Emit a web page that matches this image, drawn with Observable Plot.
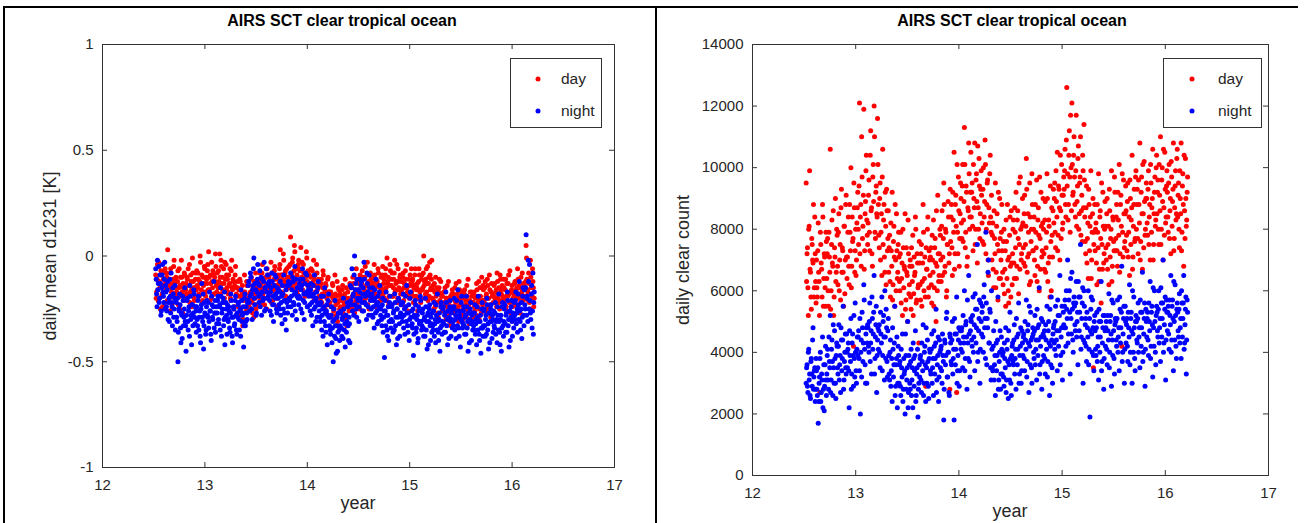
<!DOCTYPE html>
<html><head><meta charset="utf-8">
<script src="https://cdn.jsdelivr.net/npm/d3@7"></script>
<script src="https://cdn.jsdelivr.net/npm/@observablehq/plot@0.6"></script>
<style>
body{margin:0;background:#fff;}
#root{position:relative;width:1304px;height:523px;overflow:hidden;font-family:"Liberation Sans",Arial,sans-serif;background:#fff;}
#root svg{position:absolute;top:0;}
.abs{position:absolute;}
.title{font-weight:bold;font-size:16px;color:#000;transform:translateX(-50%);white-space:nowrap;line-height:18px;}
.ylab{font-size:18px;color:#262626;white-space:nowrap;transform:translate(-50%,-50%) rotate(-90deg);line-height:18px;}
.xlab{font-size:18px;color:#262626;transform:translateX(-50%);line-height:18px;}
.legend{border:1px solid #333;background:#fff;box-sizing:border-box;}
.lt{position:absolute;font-size:15.5px;color:#262626;line-height:16px;transform:translateY(-50%);}
.ld{position:absolute;width:5px;height:5px;border-radius:50%;transform:translate(-50%,-50%);}
.line{position:absolute;background:#000;}
</style></head>
<body>
<div id="root"></div>
<script>
// x ticks (year - 2000) and y ticks
const xTicks = [12, 13, 14, 15, 16, 17];
const leftYTicks = [-1, -0.5, 0, 0.5, 1];
const rightYTicks = [0, 2000, 4000, 6000, 8000, 10000, 12000, 14000];
// daily samples from mid-2012; each list holds every other day (A = even days, B = odd days)
const t0 = 12.52, perYear = 120;

// left panel: daily mean d1231, hundredths of K
const leftDayA = [
-9,-17,-4,-21,-12,-15,-7,-19,-24,-11,-14,-6,
-16,-10,3,-13,-20,-8,-15,-23,-11,-5,-18,-12,
-12,-19,-7,-15,-25,-10,-2,-17,-13,-21,-9,-16,
-18,-11,-6,-14,-22,-9,-16,-1,-12,-20,-15,-8,
-7,-15,-11,-19,0,-13,-9,-21,-14,-5,-17,-10,
-13,-4,2,-16,-9,-20,-12,-7,-18,-10,1,-14,
-8,-15,-12,1,-18,-5,-10,-22,-13,-3,-16,-9,
-11,-18,-14,-6,-21,-2,-16,-12,-24,-9,-15,-19,
-15,-24,-19,-12,-28,-17,-33,-21,-9,-18,-26,-14,
-20,-13,-26,-17,-10,-22,-15,-29,-18,-8,-23,-16,
-12,-19,-8,-15,-22,-4,-17,-11,-20,-14,-25,-9,
-15,-9,-18,-3,-12,-21,-14,-7,-19,-11,-16,-24,
-11,-6,3,-14,-9,-18,-2,-12,-7,-16,-10,-20,
-5,-12,9,-9,-3,-15,-7,2,-11,-6,-18,-4,
-13,-7,4,-10,-16,-4,-12,-19,-8,-1,-14,-9,
-9,-15,-6,-13,-19,-2,-11,-17,-14,-8,-22,-12,
-14,-20,-11,-18,-7,-24,-16,-13,-27,-19,-10,-17,
-22,-17,-28,-13,-20,-25,-9,-23,-19,-31,-15,-21,
-18,-26,-21,-14,-29,-23,-11,-20,-33,-17,-24,-22,
-21,-15,-24,-10,-19,-27,-16,-6,-22,-18,-13,-25,
-12,-18,-7,-15,-22,-10,-20,-14,-3,-17,-25,-13,
-16,-10,-21,-13,-4,-18,-11,-24,-14,-8,-19,-15,
-10,-17,-5,-13,-20,-9,-15,-1,-12,-23,-14,-7,
-14,-8,-19,-11,-2,-16,-12,-22,-6,-15,-10,-18,
-12,-18,-8,-15,-24,-11,-4,-17,-14,-20,-9,-13,
-17,-11,-22,-14,-6,-19,-15,-26,-12,-9,-20,-16,
-9,-15,0,-12,-18,-6,-13,-21,-10,-3,-16,-11,
-20,-14,-25,-17,-10,-22,-18,-29,-15,-21,-12,-19,
-19,-26,-22,-15,-30,-20,-24,-12,-27,-21,-33,-18,
-24,-18,-27,-21,-13,-25,-20,-31,-16,-23,-28,-19,
-20,-25,-16,-23,-29,-19,-11,-24,-21,-27,-17,-22,
-22,-17,-26,-19,-13,-24,-20,-30,-15,-21,-10,-23,
-16,-22,-12,-19,-26,-14,-20,-9,-23,-17,-28,-18,
-19,-13,-22,-16,-8,-20,-15,-25,-11,-18,-14,-21,
-15,-21,-11,-19,-26,-13,-18,-7,-22,-16,-24,-17,
-18,-12,-23,-15,-6,-20,-14,-27,-10,-17,-21,-13,
-14,-20,5,-11,-17,-8,-22,-2,-15,-19,-12,-24
];
const leftDayB = [
-20,-11,-16,-3,-13,-25,-9,-18,-14,-7,-22,-12,
-8,-21,-14,-11,-26,-6,-17,-13,-19,-2,-15,-10,
-17,-12,-23,-6,-14,-19,-10,-27,-15,-8,-20,-13,
-10,-19,-14,-4,-17,-12,-24,-8,-15,-21,-11,-16,
-14,-8,-18,-12,-3,-16,-22,-10,-13,-6,-19,-11,
-7,-16,-10,-21,-13,-3,-15,-9,-18,-12,-5,-17,
-14,-7,-19,-10,-2,-13,-16,-6,-20,-11,-4,-15,
-17,-9,-13,-20,-7,-15,-11,-25,-14,-5,-18,-12,
-22,-16,-11,-25,-19,-14,-30,-20,-17,-24,-12,-21,
-14,-24,-18,-11,-21,-27,-16,-12,-20,-25,-15,-19,
-17,-11,-21,-13,-8,-18,-15,-23,-10,-16,-6,-14,
-10,-18,-13,-22,-8,-16,-11,-5,-17,-14,-20,-9,
-13,-4,-9,-17,-11,1,-14,-8,-19,-6,-12,-15,
-10,-4,-14,-8,-1,-11,5,-13,-6,-9,-16,-2,
-6,-15,-11,-3,-13,-8,-18,-10,2,-12,-7,-16,
-15,-10,-18,-7,-12,-21,-9,-14,-4,-16,-11,-19,
-19,-13,-22,-15,-9,-18,-25,-14,-20,-11,-17,-23,
-17,-24,-19,-14,-26,-21,-18,-28,-12,-22,-16,-25,
-24,-19,-16,-27,-22,-18,-30,-15,-23,-20,-26,-13,
-15,-22,-19,-13,-26,-17,-21,-11,-24,-16,-20,-9,
-18,-13,-21,-10,-16,-5,-19,-14,-23,-12,-17,-8,
-11,-17,-13,-20,-9,-15,-23,-12,-6,-18,-14,-21,
-15,-9,-18,-11,-16,-6,-21,-13,-10,-19,-4,-14,
-11,-19,-15,-8,-17,-13,-4,-20,-12,-16,-9,-23,
-16,-10,-21,-13,-7,-18,-15,-26,-11,-19,-14,-6,
-12,-19,-15,-9,-23,-16,-13,-20,-6,-17,-22,-11,
-16,-8,-14,-20,-11,-17,-5,-13,-19,-9,-15,-2,
-16,-21,-13,-24,-19,-15,-27,-17,-11,-22,-18,-25,
-25,-17,-23,-28,-20,-14,-26,-22,-31,-19,-24,-16,
-20,-26,-15,-22,-29,-18,-24,-12,-21,-27,-17,-30,
-25,-18,-28,-21,-14,-26,-23,-32,-17,-22,-19,-29,
-18,-24,-20,-28,-16,-22,-12,-25,-19,-27,-21,-14,
-21,-15,-25,-18,-11,-20,-24,-16,-29,-13,-19,-22,
-14,-20,-17,-24,-12,-18,-22,-9,-16,-21,-19,-11,
-21,-16,-24,-13,-19,-9,-22,-17,-27,-14,-20,-18,
-13,-20,-16,-24,-11,-19,-15,-22,-18,-8,-21,-14,
-19,-12,-1,-16,-21,-13,-25,-10,-18,-6,-15,-20
];
const leftNightA = [
-6,-18,-2,-13,-22,-9,-28,-15,-4,-19,-11,-25,
-17,-26,-12,-22,-31,-19,-8,-24,-15,-29,-20,-35,
-22,-31,-50,-25,-18,-34,-27,-39,-21,-29,-15,-33,
-28,-20,-35,-24,-14,-30,-42,-23,-27,-18,-32,-26,
-24,-33,-19,-29,-38,-25,-13,-31,-44,-22,-28,-35,
-21,-29,-34,-17,-26,-40,-23,-30,-12,-27,-36,-24,
-27,-19,-32,-23,-15,-38,-25,-20,-30,-42,-22,-28,
-23,-31,-26,-36,-18,-29,-41,-24,-33,-21,-28,-37,
-29,-22,-35,-25,-16,-31,-27,-43,-20,-33,-24,-30,
-21,-12,-26,-8,-18,-30,-14,-1,-23,-16,-27,-11,
-13,-22,-7,-18,-28,-11,-20,-3,-15,-25,-17,-9,
-19,-12,-26,-15,-8,-23,-31,-14,-20,-10,-27,-17,
-16,-25,-12,-22,-32,-18,-9,-27,-21,-35,-14,-24,
-14,-21,-8,-19,-28,-12,-23,-5,-17,-30,-15,-20,
-19,-11,-25,-14,-6,-21,-30,-13,-18,-9,-24,-16,
-17,-26,-13,-22,-33,-18,-9,-24,-20,-29,-15,-23,
-23,-31,-19,-28,-38,-24,-15,-33,-26,-42,-21,-29,
-29,-37,-24,-34,-50,-30,-21,-39,-33,-45,-27,-35,
-33,-26,-38,-29,-20,-35,-43,-28,-31,-24,-40,-32,
-14,-23,-6,-19,-28,0,-16,-25,-11,-21,-31,-17,
-20,-12,-26,-15,-3,-22,-18,-30,-13,-24,-9,-19,
-19,-28,-15,-24,-34,-20,-11,-26,-22,-31,-17,-25,
-24,-33,-20,-29,-48,-26,-17,-35,-28,-40,-22,-31,
-30,-23,-36,-26,-18,-33,-42,-25,-29,-21,-38,-27,
-22,-31,-18,-28,-37,-24,-14,-33,-27,-40,-20,-29,
-26,-34,-47,-28,-21,-36,-30,-41,-24,-32,-19,-31,
-33,-25,-38,-29,-20,-35,-44,-27,-31,-23,-40,-32,
-27,-35,-22,-32,-41,-28,-18,-36,-30,-45,-24,-33,
-31,-24,-36,-27,-17,-33,-42,-26,-29,-21,-38,-30,
-25,-33,-20,-30,-39,-26,-16,-34,-28,-43,-22,-31,
-32,-24,-37,-28,-19,-34,-45,-27,-30,-22,-40,-31,
-27,-35,-23,-32,-42,-29,-19,-37,-31,-46,-25,-34,
-33,-25,-38,-28,-20,-35,-44,-27,-31,-23,-39,-30,
-26,-34,-22,-31,-41,-28,-18,-36,-30,-45,-24,-33,
-31,-23,-36,-27,-17,-33,-43,-26,-29,-21,-38,-30,
-22,-30,-17,-27,-36,-23,-12,-31,-25,-39,-19,-28,
-16,-25,10,-20,-31,-12,-4,-27,-18,-34,-8,-22
];
const leftNightB = [
-11,-24,-16,-5,-20,-13,-26,-9,-17,-22,-3,-14,
-24,-16,-30,-20,-11,-27,-22,-33,-18,-25,-14,-21,
-29,-20,-36,-26,-23,-41,-28,-19,-33,-25,-31,-45,
-21,-31,-26,-38,-19,-28,-23,-33,-16,-29,-24,-36,
-30,-21,-35,-26,-41,-23,-29,-18,-33,-27,-37,-24,
-28,-22,-31,-26,-37,-19,-29,-24,-34,-21,-27,-32,
-21,-30,-24,-35,-19,-27,-22,-33,-17,-29,-25,-37,
-30,-24,-34,-27,-21,-38,-29,-25,-32,-19,-35,-27,
-23,-30,-26,-38,-21,-28,-24,-33,-18,-31,-27,-22,
-14,-22,-19,-10,-25,-16,-6,-20,-13,-28,-17,-4,
-19,-14,-24,-10,-17,-21,-12,-26,-15,-6,-20,-13,
-14,-21,-17,-28,-12,-19,-23,-9,-18,-25,-15,-20,
-23,-17,-28,-19,-14,-25,-21,-30,-16,-22,-27,-12,
-20,-13,-24,-16,-10,-22,-18,-26,-11,-19,-15,-23,
-13,-20,-16,-27,-11,-18,-22,-8,-17,-24,-14,-19,
-23,-16,-28,-19,-14,-25,-21,-31,-17,-22,-12,-26,
-29,-22,-35,-25,-19,-31,-27,-36,-23,-28,-18,-33,
-35,-28,-41,-31,-25,-38,-33,-46,-29,-36,-27,-40,
-27,-34,-30,-39,-25,-32,-28,-36,-22,-33,-29,-41,
-21,-15,-26,-18,-9,-23,-13,-29,-20,-16,-24,-11,
-14,-22,-18,-26,-11,-19,-23,-8,-17,-28,-15,-21,
-25,-18,-29,-21,-16,-27,-23,-32,-19,-24,-14,-28,
-30,-23,-36,-26,-21,-33,-28,-38,-24,-31,-19,-34,
-24,-31,-27,-35,-22,-29,-25,-39,-20,-32,-28,-23,
-29,-22,-34,-25,-19,-31,-27,-36,-23,-30,-17,-33,
-32,-25,-37,-29,-23,-34,-28,-39,-26,-31,-21,-35,
-27,-34,-30,-38,-24,-31,-28,-42,-25,-33,-29,-36,
-33,-26,-38,-30,-23,-35,-31,-40,-27,-34,-22,-37,
-25,-32,-28,-36,-22,-30,-26,-39,-24,-31,-27,-34,
-31,-24,-35,-28,-21,-33,-29,-38,-26,-30,-19,-34,
-26,-33,-29,-37,-24,-31,-27,-41,-25,-32,-28,-35,
-33,-27,-37,-30,-24,-35,-31,-40,-28,-34,-22,-38,
-26,-33,-30,-37,-23,-32,-27,-41,-25,-31,-28,-36,
-33,-27,-37,-30,-24,-35,-31,-42,-28,-34,-22,-38,
-25,-32,-28,-36,-21,-30,-26,-40,-24,-31,-27,-34,
-28,-21,-32,-25,-18,-30,-26,-35,-22,-29,-15,-33,
-23,-15,-28,-19,-2,-25,-21,-30,-14,-26,-37,-17
];

// right panel: daily clear count, hundreds
const rightDayA = [
95,72,61,80,99,66,54,75,69,58,84,63,
70,58,82,63,27,75,67,88,55,72,61,79,
64,77,55,71,106,60,83,68,52,74,90,66,
78,62,85,70,57,93,74,66,81,59,88,71,
71,84,62,79,100,68,76,42,87,73,65,82,
92,75,121,84,68,97,81,119,73,89,104,78,
82,96,73,112,87,68,101,120,79,92,85,116,
88,74,95,79,65,106,83,71,92,62,86,77,
66,78,58,73,92,62,81,55,70,85,64,75,
71,60,79,64,52,74,68,85,57,66,50,72,
62,70,54,68,78,59,65,84,56,72,61,43,
69,57,75,63,88,60,71,29,67,80,58,73,
65,74,56,70,83,61,77,50,68,91,63,72,
78,63,86,71,95,66,80,58,75,89,69,28,
76,88,65,83,105,72,91,27,79,97,68,85,
90,77,101,83,113,74,94,68,87,108,80,92,
84,95,73,90,108,80,98,69,87,103,77,93,
91,76,100,84,109,72,88,96,65,82,104,79,
70,82,61,77,95,66,85,57,73,90,64,79,
73,62,80,67,55,76,88,60,71,84,58,69,
72,83,64,79,92,68,86,59,75,97,70,81,
82,69,91,75,103,66,85,72,95,63,80,88,
73,84,65,79,96,68,87,60,77,92,71,82,
80,67,89,74,98,63,83,71,94,60,78,86,
82,95,74,89,105,78,93,70,86,101,80,91,
93,106,84,126,98,88,112,79,100,121,91,104,
97,84,117,89,103,80,95,110,86,76,99,114,
84,72,94,77,64,88,81,99,70,85,35,79,
73,82,62,79,98,67,86,56,75,92,69,80,
81,70,90,75,62,86,77,99,68,83,73,92,
77,88,68,83,101,72,91,42,79,96,74,85,
86,73,95,79,65,90,83,104,71,88,76,97,
80,93,72,88,108,76,97,67,85,102,78,90,
90,78,99,84,70,95,87,106,75,92,81,100,
85,96,75,91,110,80,100,70,87,105,82,94,
92,79,101,86,72,97,89,108,77,94,83,103,
84,95,74,90,108,79,98,68,86,103,81,92
];
const rightDayB = [
63,74,52,81,67,58,77,70,88,61,72,56,
61,73,66,52,79,69,58,84,64,71,55,76,
72,60,79,66,54,75,69,86,58,71,63,80,
68,79,60,75,87,66,73,55,81,70,91,64,
79,68,88,73,61,84,77,95,66,80,70,87,
80,94,72,88,110,77,91,67,85,99,83,75,
91,79,104,86,72,97,89,110,77,94,84,101,
78,90,70,85,97,75,88,66,81,93,73,86,
74,63,82,68,57,76,71,88,60,73,66,79,
63,72,56,69,80,61,67,54,74,65,83,59,
68,58,74,63,52,71,66,80,57,69,62,76,
62,72,55,69,79,64,58,74,67,84,61,70,
71,62,78,66,55,74,69,86,60,72,65,80,
70,81,65,77,88,68,79,60,75,84,72,93,
84,74,92,79,67,88,81,101,72,86,77,95,
82,94,76,89,101,79,92,71,86,98,84,105,
92,81,101,87,75,96,89,107,80,94,85,99,
82,93,75,89,101,80,95,70,87,98,84,91,
78,67,86,72,61,81,75,92,64,77,70,88,
66,76,59,73,83,64,70,56,78,68,86,62,
80,69,87,74,64,83,77,95,67,80,72,90,
74,85,68,81,93,71,79,62,84,76,98,73,
80,70,88,74,63,83,78,97,67,81,73,90,
72,83,66,79,90,69,81,58,76,87,71,93,
90,79,99,84,73,94,87,104,77,91,82,97,
99,88,109,94,83,104,97,117,86,101,92,110,
88,99,81,94,107,85,97,78,91,104,87,96,
76,87,69,82,93,73,84,64,79,90,75,88,
80,69,88,74,63,84,77,95,67,81,72,89,
74,85,67,81,93,71,80,63,84,76,97,73,
84,73,92,78,66,88,81,98,71,85,76,94,
78,89,71,84,96,75,87,67,81,93,77,99,
88,77,96,82,70,92,85,101,74,89,80,95,
82,93,75,88,101,79,90,70,85,97,83,104,
92,80,101,86,75,96,89,106,78,93,84,99,
84,95,77,90,102,81,93,73,87,99,85,106,
91,80,99,85,73,94,88,104,77,90,83,97
];
const rightNightA = [
30,36,27,41,33,25,38,29,48,32,35,28,
34,26,17,30,38,24,33,45,28,21,36,31,
33,41,28,37,52,31,44,26,35,47,30,39,
42,33,49,36,27,44,38,55,31,40,35,46,
35,43,22,39,51,33,46,29,38,56,34,41,
39,47,34,20,44,53,37,62,41,30,48,43,
48,40,56,43,33,51,46,65,38,49,27,44,
41,49,35,46,58,39,52,31,45,54,37,47,
39,31,44,34,24,41,36,55,29,38,22,42,
30,37,26,35,46,28,33,20,39,31,50,27,
36,28,41,31,22,38,34,47,26,35,19,30,
32,39,27,37,49,30,42,24,35,44,29,38,
40,33,46,35,26,42,38,54,31,39,24,44,
35,42,30,39,18,44,36,51,32,40,27,46,
43,36,50,38,18,46,41,58,34,44,29,47,
41,48,35,45,60,38,50,28,43,65,37,47,
50,42,58,45,34,54,48,75,40,51,30,56,
46,55,40,62,51,79,36,48,70,43,53,31,
41,34,47,36,26,43,39,58,31,40,28,45,
33,40,29,38,48,31,44,25,36,53,30,39,
43,36,49,38,28,45,41,56,33,42,30,47,
39,46,34,44,57,37,49,27,42,53,35,45,
46,38,52,41,31,48,44,61,36,45,28,50,
39,47,33,44,55,37,50,26,42,58,35,46,
49,41,55,44,34,52,47,65,39,48,31,53,
48,57,42,54,70,46,60,33,51,66,44,56,
55,47,63,50,36,58,53,75,45,56,30,60,
43,51,37,48,60,41,19,54,46,57,39,50,
47,39,53,42,31,50,45,63,37,48,28,52,
42,50,36,47,59,40,52,29,44,56,38,49,
50,42,57,45,34,54,48,68,40,51,30,55,
43,51,37,48,62,40,53,30,46,58,38,50,
50,43,56,45,35,53,48,66,40,51,29,54,
45,53,39,50,63,42,55,32,48,60,40,52,
53,45,60,48,37,56,51,70,43,54,31,57,
47,55,41,52,65,44,57,34,50,62,42,54,
53,45,59,48,38,56,51,65,43,54,33,57
];
const rightNightB = [
35,29,40,31,26,37,33,44,28,34,24,38,
28,35,24,32,40,27,31,22,36,29,42,26,
39,31,45,35,27,41,37,49,30,38,25,43,
35,42,31,39,48,34,44,28,37,46,33,40,
41,34,47,37,28,43,39,52,32,40,30,45,
45,38,51,40,32,48,43,57,36,46,30,49,
42,50,37,47,58,41,53,33,45,55,39,48,
47,40,53,43,34,50,45,60,38,48,32,51,
33,40,29,38,48,32,43,26,36,45,30,39,
36,29,41,32,24,38,34,46,28,35,22,39,
30,37,26,35,43,29,39,24,33,41,28,36,
38,31,43,34,26,40,36,48,30,37,25,41,
34,41,30,38,47,33,43,27,36,45,32,40,
41,34,46,37,28,43,39,53,32,40,26,45,
37,44,33,41,51,36,46,30,39,48,34,43,
47,40,52,43,34,49,45,57,38,46,32,51,
44,52,40,49,59,43,54,37,47,57,41,50,
53,45,58,48,38,56,51,66,43,54,35,60,
35,42,31,39,50,34,44,28,37,47,33,41,
39,32,43,35,27,41,37,47,31,38,26,42,
37,44,33,41,51,36,46,30,39,48,34,43,
45,38,50,41,32,47,43,55,36,44,30,48,
40,47,36,44,54,39,49,33,42,51,37,46,
45,38,49,41,32,47,43,54,36,44,30,48,
43,50,39,47,57,42,52,36,45,55,40,49,
55,48,60,51,43,57,53,64,46,54,40,58,
49,56,45,53,63,47,58,41,51,61,44,55,
49,42,53,45,36,51,47,58,40,48,34,52,
41,48,37,45,54,40,50,34,43,52,38,47,
48,41,52,44,35,50,46,57,39,47,33,51,
44,51,40,48,58,43,53,37,46,55,41,50,
49,42,53,45,36,51,47,60,40,48,34,52,
44,51,40,48,57,42,53,37,46,56,41,50,
51,44,56,47,38,53,49,61,42,50,36,55,
47,54,43,51,61,45,56,40,49,58,44,53,
53,46,57,49,40,55,51,63,44,52,38,56,
47,54,43,51,60,45,56,41,49,58,44,53
];

const title = "AIRS SCT clear tropical ocean";
const xLabel = "year";
const leftYLabel = "daily mean d1231 [K]";
const rightYLabel = "daily clear count";
const seriesNames = ["day", "night"];
const seriesColors = ["#ff0000", "#0000ff"];

function series(a, b, unit) {
  return a.map((v, i) => ({t: t0 + i / perYear, v: v * unit}))
    .concat(b.map((v, i) => ({t: t0 + (i + 0.5) / perYear, v: v * unit})));
}

function panel(o) {
  const plotW = o.width - o.ml - o.mr, plotH = o.height - o.mt - o.mb;
  const ink = "#333";
  const svg = Plot.plot({
    width: o.width, height: o.height,
    marginLeft: o.ml, marginRight: o.mr, marginTop: o.mt, marginBottom: o.mb,
    style: {fontFamily: '"Liberation Sans", Arial, sans-serif', fontSize: "15px", color: "#262626", background: "transparent", overflow: "visible"},
    x: {domain: [12, 17], ticks: xTicks, tickSize: 0, tickPadding: 12, tickFormat: d => String(d), label: null},
    y: {domain: o.yDomain, ticks: o.yTicks, tickSize: 0, tickPadding: 9, tickFormat: d => String(d), label: null},
    marks: [
      Plot.dot(o.day, {x: "t", y: "v", r: 2.5, fill: seriesColors[0]}),
      Plot.dot(o.night, {x: "t", y: "v", r: 2.5, fill: seriesColors[1]}),
      Plot.tickX(xTicks, {x: d => d, insetTop: plotH - 5, stroke: ink}),
      Plot.tickX(xTicks, {x: d => d, insetBottom: plotH - 5, stroke: ink}),
      Plot.tickY(o.yTicks, {y: d => d, insetRight: plotW - 5, stroke: ink}),
      Plot.tickY(o.yTicks, {y: d => d, insetLeft: plotW - 5, stroke: ink}),
      Plot.frame({stroke: ink})
    ]
  });
  svg.style.left = o.left + "px";
  return svg;
}

const root = document.getElementById("root");
root.appendChild(panel({
  left: 0, width: 655, height: 523, ml: 102, mr: 41, mt: 44, mb: 56,
  yDomain: [-1, 1], yTicks: leftYTicks,
  day: series(leftDayA, leftDayB, 0.01), night: series(leftNightA, leftNightB, 0.01)
}));
root.appendChild(panel({
  left: 657, width: 647, height: 523, ml: 95, mr: 36, mt: 44, mb: 48,
  yDomain: [0, 14000], yTicks: rightYTicks,
  day: series(rightDayA, rightDayB, 100), night: series(rightNightA, rightNightB, 100)
}));

function add(cls, css, text) {
  const d = document.createElement("div");
  d.className = "abs " + cls;
  Object.assign(d.style, css);
  if (text != null) d.textContent = text;
  root.appendChild(d);
  return d;
}
add("title", {left: "342px", top: "12px"}, title);
add("title", {left: "1012px", top: "12px"}, title);
add("ylab", {left: "50px", top: "256px"}, leftYLabel);
add("ylab", {left: "683px", top: "260px"}, rightYLabel);
add("xlab", {left: "358px", top: "494px"}, xLabel);
add("xlab", {left: "1010px", top: "502px"}, xLabel);

function legend(x, y, w, h, dotX, textX) {
  const box = add("legend", {left: x + "px", top: y + "px", width: w + "px", height: h + "px"});
  [[20, 0], [52, 1]].forEach(([ry, k]) => {
    const dot = document.createElement("div");
    dot.className = "ld";
    Object.assign(dot.style, {left: dotX + "px", top: ry + "px", background: seriesColors[k]});
    box.appendChild(dot);
    const t = document.createElement("div");
    t.className = "lt";
    Object.assign(t.style, {left: textX + "px", top: ry + "px"});
    t.textContent = seriesNames[k];
    box.appendChild(t);
  });
}
legend(510, 58, 92, 70, 27, 50);
legend(1163, 58, 99, 70, 28, 54);

// panel frame lines
add("line", {left: "3px", top: "6px", width: "1295px", height: "2px"});
add("line", {left: "3px", top: "6px", width: "2px", height: "517px"});
add("line", {left: "655px", top: "6px", width: "2px", height: "517px"});
</script>
</body></html>
